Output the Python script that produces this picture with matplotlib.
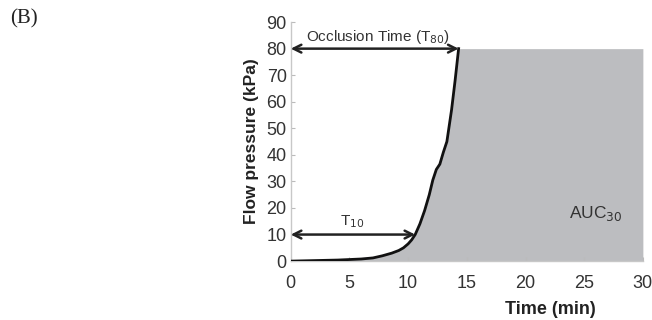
import numpy as np
import matplotlib
matplotlib.use("Agg")
import matplotlib.pyplot as plt

# Data
time_min = [0, 2, 4, 6, 7, 7.8, 8.6, 9.2, 9.6, 10.0, 10.3, 10.6, 11.0, 11.4, 11.8, 12.1, 12.4, 12.7, 13.0, 13.3, 13.7, 14.0, 14.3]
pressure = [0, 0.2, 0.4, 0.8, 1.2, 2.0, 3.0, 4.0, 5.0, 6.5, 8.0, 10.0, 14.0, 19.0, 25.0, 30.5, 34.5, 36.5, 41.0, 45.0, 57.0, 68.0, 80.0]
t10 = 10.6
t80 = 14.3
xticks = [0, 5, 10, 15, 20, 25, 30]
yticks = [0, 10, 20, 30, 40, 50, 60, 70, 80, 90]

plt.rcParams['font.family'] = ['Liberation Sans', 'DejaVu Sans']
fig = plt.figure(figsize=(6.52, 3.2), dpi=100)
ax = fig.add_axes([0.446, 0.184, 0.54, 0.747])

fill_x = list(time_min) + [30]
fill_y = list(pressure) + [80]
ax.fill_between(fill_x, fill_y, 0, color='#bcbdc0', lw=0, zorder=1)
ax.plot(time_min, pressure, color='#111111', lw=2.0, zorder=3)

ax.annotate('', xy=(0, 80), xytext=(t80, 80),
            arrowprops=dict(arrowstyle='<->', color='#222222', lw=1.8, shrinkA=0, shrinkB=0, mutation_scale=14), zorder=4)
ax.annotate('', xy=(0, 10), xytext=(t10, 10),
            arrowprops=dict(arrowstyle='<->', color='#222222', lw=1.8, shrinkA=0, shrinkB=0, mutation_scale=14), zorder=4)

ax.text(7.4, 84.5, 'Occlusion Time (T$_{80}$)', ha='center', va='center', fontsize=11, color='#333333')
ax.text(5.2, 15, 'T$_{10}$', ha='center', va='center', fontsize=11, color='#333333')
ax.text(26, 18, 'AUC$_{30}$', ha='center', va='center', fontsize=12.5, color='#333333')

ax.set_xlim(0, 30)
ax.set_ylim(0, 90)
ax.set_xticks(xticks)
ax.set_yticks(yticks)
ax.tick_params(direction='in', length=3, colors='#bbbbbb', labelcolor='#333333', labelsize=13)
ax.tick_params(axis='x', pad=10)
ax.tick_params(axis='y', pad=3)
for s in ['top', 'right']:
    ax.spines[s].set_visible(False)
for s in ['left', 'bottom']:
    ax.spines[s].set_color('#c8c8c8')
    ax.spines[s].set_linewidth(1.0)
ax.set_xlabel('Time (min)', fontsize=13, fontweight='bold', color='#222222')
ax.xaxis.set_label_coords(0.736, -0.165)
ax.set_ylabel('Flow pressure (kPa)', fontsize=12.5, fontweight='bold', color='#222222', labelpad=5)

fig.text(0.036, 0.94, '(B)', fontsize=15, family='Liberation Serif', va='center', ha='center', color='#222222')

fig.savefig('out.png', dpi=100)
